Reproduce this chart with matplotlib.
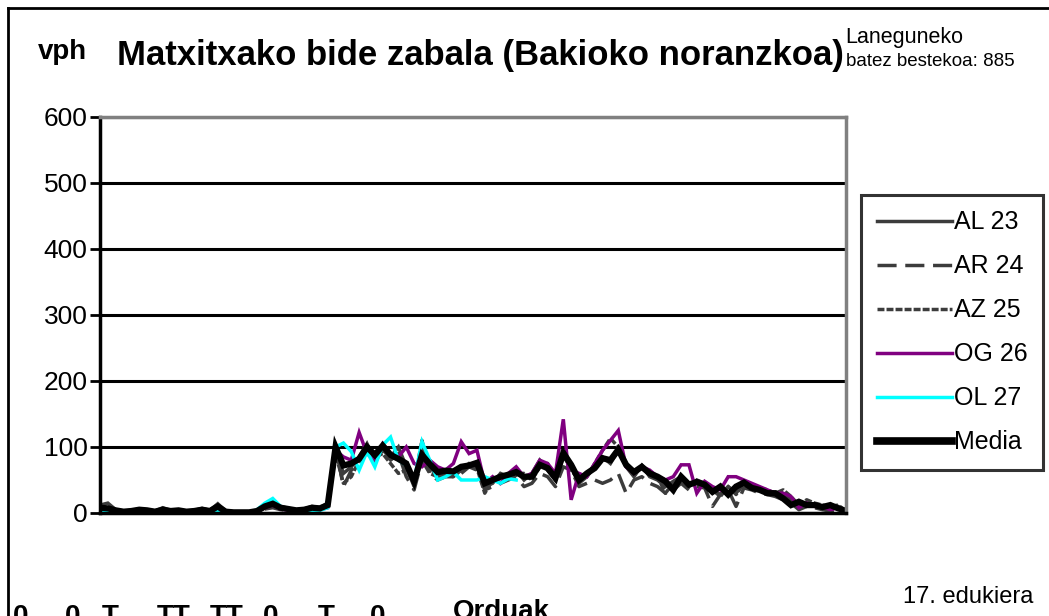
import numpy as np
import matplotlib.pyplot as plt
from matplotlib.lines import Line2D

plt.rcParams['font.family'] = ['Liberation Sans', 'DejaVu Sans']

nan = np.nan

# vph cada 15 minutos (96 intervalos)
al_23 = [12, 15, 5, 3, 4, 6, 5, 3, 8, 4, 5, 3, 4, 7, 4, 14, 3, 2, 1, 1,
         4, 12, 16, 10, 7, 5, 6, 10, 8, 15,
         95, 60, 70, 85, 105, 80, 95, 85, 100, 70, 40, 100, 70, 55, 60, 60, 65, 75, 70, 40,
         45, 60, 55, 65, 50, 60, 80, 65, 50, 85, 70, 45, 55, 70, 85, 75, 95, 70, 55, 72,
         55, 50, 40, 48, 55,
         40, 50, 45, 35, 28, 40, 30, 45, 40, 35, 32, 30, 28, 20, 10, 15, 12, 10, 8, 10, 2]
ar_24 = [5, 3, 2, 1, 2, 3, 2, 1, 3, 2, 2, 1, 2, 3, 2, 6, 1, 0, 0, 0,
         2, 6, 8, 5, 4, 3, 3, 5, 5, 10,
         100, 40, 65, 75, 95, 75, 100, 80, 90, 55, 35, 80, 60, 50, 55, 55, 60, 70, 65, 35,
         40, 45, 50, 55, 40, 45, 60, 55, 40, 70, 65, 40, 45, 50, 45, 50, 60, 30, 50, 55,
         45, 40, 30, 35, 45,
         35, 40, 38, 10, 28, 35, 10, 38, 35, 30, 28, 25, 20, 15, 5, 10, 8, 5, 3, 5, 0]
az_25 = [6, 4, 3, 2, 3, 4, 3, 2, 4, 2, 3, 2, 3, 4, 2, 8, 2, 1, 1, 1,
         3, 8, 12, 7, 5, 3, 4, 7, 6, 10,
         90, 45, 55, 80, 95, 85, 90, 75, 60, 65, 45, 110, 60, 55, 58, 55, 65, 70, 68, 30,
         50, 55, 55, 60, 60, 50, 70, 75, 50, 90, 65, 50, 55, 75, 95, 113, 100, 70, 60, 72,
         60, 55, 30, 45, 55,
         42, 45, 42, 35, 25, 40, 28, 45, 40, 38, 35, 30, 35, 25, 12, 20, 15, 12, 10, 12, 3]
og_26 = [10, 6, 3, 1, 2, 4, 3, 1, 4, 2, 3, 1, 2, 4, 2, 8, 1, 0, 0, 0,
         2, 8, 12, 6, 4, 2, 4, 6, 5, 8,
         95, 85, 80, 122, 90, 80, 105, 90, 85, 100, 75, 70, 80, 70, 65, 75, 108, 90, 95, 45,
         55, 45, 60, 70, 55, 60, 80, 75, 60, 142, 20, 60, 55, 75, 95, 110, 125, 70, 60, 70,
         65, 55, 50, 55, 73,
         73, 30, 48, 40, 35, 55, 55, 50, 45, 40, 35, 30, 30, 25, 8, 15, 10, 10, 5, 8, 2]
ol_27 = [2, 1, 0, 0, 1, 1, 0, 0, 1, 0, 1, 0, 0, 1, 0, 3, 0, 0, 0, 0,
         5, 15, 22, 10, 5, 2, 2, 4, 4, 8,
         100, 106, 93, 65, 93, 70, 103, 115, 80, 73, 50, 108, 80, 50, 55, 62, 50, 50, 50, 55,
         50, 45, 52, 50] + [nan] * 42
media = [8, 7, 4, 2, 3, 5, 4, 2, 5, 3, 4, 2, 3, 5, 3, 10, 2, 1, 1, 1,
         3, 10, 14, 8, 6, 4, 5, 8, 7, 12,
         100, 72, 75, 82, 100, 88, 102, 88, 82, 75, 48, 88, 74, 62, 64, 63, 70, 72, 76, 45,
         50, 55, 58, 62, 55, 55, 73, 68, 53, 91, 73, 50, 60, 68, 83, 80, 96, 73, 62, 70,
         60, 55, 48, 35, 55,
         43, 47, 43, 32, 40, 28, 40, 46, 38, 35, 30, 30, 22, 12, 17, 12, 12, 9, 12, 7, 3]

etiquetas = ['AL 23', 'AR 24', 'AZ 25', 'OG 26', 'OL 27', 'Media']
y_ticks = [0, 100, 200, 300, 400, 500, 600]

# restos de etiquetas cortadas en el borde inferior
cortadas = ['0', '0', 'T', 'TT', 'TT', '0', 'T', '0']
cortadas_x = [13, 65, 102, 157, 210, 263, 318, 370]

gris = '#3c3c3c'
estilos = [
    dict(color=gris, lw=2.5, ls='-'),
    dict(color=gris, lw=2.5, ls=(0, (5.5, 2.5))),
    dict(color=gris, lw=2.5, ls=(0, (2, 0.6))),
    dict(color='#800080', lw=2.5, ls='-'),
    dict(color='#00ffff', lw=2.5, ls='-'),
    dict(color='black', lw=4.5, ls='-'),
]

fig = plt.figure(figsize=(10.49, 6.16), dpi=100)
ax = fig.add_axes([100 / 1049, 103 / 616, 746 / 1049, 396 / 616])

x = np.arange(len(media))
for datos, nombre, st in zip([al_23, ar_24, az_25, og_26, ol_27, media], etiquetas, estilos):
    ax.plot(x, datos, label=nombre, solid_joinstyle='miter', **st)

ax.set_xlim(0, 95)
ax.set_ylim(0, 600)
ax.set_yticks(y_ticks)
ax.set_xticks([])
ax.yaxis.grid(True, color='black', lw=2.2)
ax.tick_params(axis='y', direction='out', length=7, width=2, labelsize=19, pad=2)
for lado in ['left', 'bottom']:
    ax.spines[lado].set_color('black')
    ax.spines[lado].set_linewidth(2.5)
for lado in ['top', 'right']:
    ax.spines[lado].set_color('#808080')
    ax.spines[lado].set_linewidth(2.5)

leg = ax.legend(loc='upper left', bbox_to_anchor=(861 / 1049, 1 - 195 / 616),
                bbox_transform=fig.transFigure, fontsize=18, frameon=True,
                fancybox=False, shadow=False, handlelength=3.0, handletextpad=0.1,
                labelspacing=0.8, borderpad=0.62, borderaxespad=0)
leg.get_frame().set_edgecolor('black')
leg.get_frame().set_linewidth(2.2)
leg.legend_handles[5].set_linewidth(5.5)

# textos
fig.text(38 / 1049, 1 - 52 / 616, 'vph', fontsize=20, fontweight='bold', va='center')
fig.text(117 / 1049, 1 - 55 / 616, 'Matxitxako bide zabala (Bakioko noranzkoa)',
         fontsize=25, fontweight='bold', va='center')
fig.text(845 / 1049, 1 - 37 / 616, 'Laneguneko', fontsize=15.5, va='center')
fig.text(1015 / 1049, 1 - 62 / 616, 'batez bestekoa: 885', fontsize=13.5, va='center', ha='right')
fig.text(453 / 1049, -3 / 616, 'Orduak', fontsize=20, fontweight='bold', va='baseline')
fig.text(1033 / 1049, 1 - 597 / 616, '17. edukiera', fontsize=17, va='center', ha='right')
for txt, px in zip(cortadas, cortadas_x):
    fig.text(px / 1049, -8 / 616, txt, fontsize=20, fontweight='bold', va='baseline')

# marco
fig.add_artist(Line2D([8 / 1049, 8 / 1049], [0, 1 - 8 / 616], color='black', lw=2,
                      transform=fig.transFigure))
fig.add_artist(Line2D([8 / 1049, 1], [1 - 8 / 616, 1 - 8 / 616], color='black', lw=2,
                      transform=fig.transFigure))

fig.savefig('out.png', dpi=100)
